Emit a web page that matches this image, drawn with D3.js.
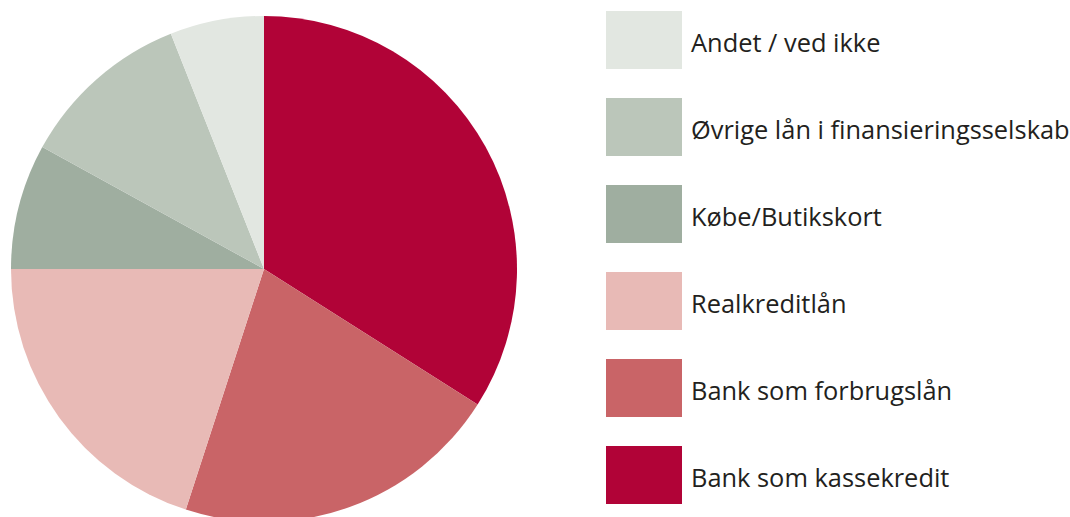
<!DOCTYPE html>
<html><head><meta charset="utf-8">
<script src="https://cdn.jsdelivr.net/npm/d3@7"></script>
<style>html,body{margin:0;padding:0;background:#fff;}svg{display:block;}</style>
</head><body>
<svg id="chart" width="1070" height="517"></svg>
<script>
const categories = ["Bank som kassekredit","Bank som forbrugslån","Realkreditlån","Købe/Butikskort","Øvrige lån i finansieringsselskab","Andet / ved ikke"];
const values = [34, 21, 20, 8, 11, 6];
const colors = ["#b10337","#c96467","#e8bab6","#9faea0","#bbc6ba","#e2e7e1"];
const legendOrder = ["Andet / ved ikke","Øvrige lån i finansieringsselskab","Købe/Butikskort","Realkreditlån","Bank som forbrugslån","Bank som kassekredit"];

const data = categories.map((c,i)=>({cat:c, value:values[i]}));
const color = d3.scaleOrdinal().domain(categories).range(colors);
const svg = d3.select("#chart");

const cx = 264, cy = 269, r = 253;
const pie = d3.pie().value(d=>d.value).sort(null);
const arc = d3.arc().innerRadius(0).outerRadius(r);
svg.append("g").attr("transform",`translate(${cx},${cy})`)
  .selectAll("path").data(pie(data)).join("path")
  .attr("d",arc).attr("fill",d=>color(d.data.cat));

const ly = d3.scalePoint().domain(legendOrder).range([11, 446]);
const lg = svg.append("g").selectAll("g").data(legendOrder).join("g")
  .attr("transform",d=>`translate(606,${ly(d)})`);
lg.append("rect").attr("width",76).attr("height",58).attr("fill",d=>color(d));
lg.append("text").attr("x",85).attr("y",41)
  .attr("font-family","Open Sans, sans-serif").attr("font-size",25.4)
  .attr("fill","#231f20").text(d=>d);
</script>
</body></html>
